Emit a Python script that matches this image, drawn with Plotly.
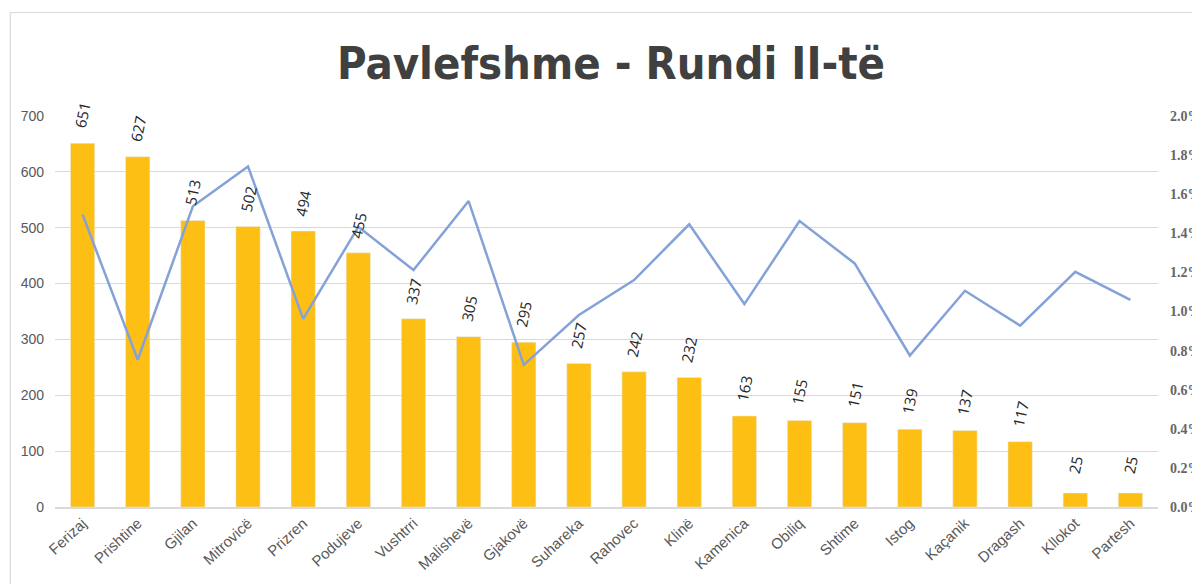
import plotly.graph_objects as go

categories = ["Ferizaj", "Prishtine", "Gjilan", "Mitrovicë", "Prizren", "Podujeve",
              "Vushtrri", "Malishevë", "Gjakovë", "Suhareka", "Rahovec", "Klinë",
              "Kamenica", "Obiliq", "Shtime", "Istog", "Kaçanik", "Dragash",
              "Kllokot", "Partesh"]
invalid_votes = [651, 627, 513, 502, 494, 455, 337, 305, 295, 257, 242, 232,
                 163, 155, 151, 139, 137, 117, 25, 25]
invalid_share = [0.01496, 0.00753, 0.01538, 0.01742, 0.00962, 0.01433, 0.01212, 0.01565,
                 0.00727, 0.00982, 0.01161, 0.01446, 0.01038, 0.01463, 0.01246, 0.00775,
                 0.01106, 0.00928, 0.01203, 0.01059]
left_ticks = [0, 100, 200, 300, 400, 500, 600, 700]
right_ticks = [0.0, 0.002, 0.004, 0.006, 0.008, 0.010, 0.012, 0.014, 0.016, 0.018, 0.020]

W, H = 1200, 584
OFF = 8  # page body offset
L, R, T, B = 54.7 - OFF, 42.4 + OFF, 115.7 - OFF, 76.5 + OFF

fig = go.Figure()
fig.add_trace(go.Bar(
    x=categories, y=invalid_votes, marker_color="#FDBF14",
    name="Pavlefshme",
))
fig.add_trace(go.Scatter(
    x=categories, y=invalid_share, yaxis="y2", mode="lines",
    line=dict(color="#84A2D8", width=2.5), name="%",
))

def px_to_paper_x(px):
    return (px - OFF - L) / (W - L - R)

def px_to_paper_y(py):
    return (H - B - (py - OFF)) / (H - T - B)

label_cap = 677  # labels of the tallest bars stop at the top of the chart
annotations = [
    dict(x=c, y=min(v, label_cap), xref="x", yref="y", text=str(v), showarrow=False,
         textangle=-78, yshift=28, xanchor="center", yanchor="middle",
         font=dict(family="Open Sans", size=15, color="#262626"))
    for c, v in zip(categories, invalid_votes)
]

fig.update_layout(
    width=W, height=H,
    margin=dict(l=L, r=R, t=T, b=B),
    plot_bgcolor="white", paper_bgcolor="white",
    showlegend=False, bargap=0.56,
    title=dict(text="<b>Pavlefshme - Rundi II-të</b>", x=(611 - OFF) / W, xanchor="center",
               y=1 - (63 - OFF) / H, yanchor="middle",
               font=dict(family="Liberation Sans Narrow, DejaVu Sans Condensed", size=45, color="#404040")),
    xaxis=dict(tickangle=-43, showgrid=False, showline=True, linecolor="#D9D9D9",
               linewidth=1.5, ticks="", automargin=False,
               tickfont=dict(family="Liberation Sans", size=15, color="#595959")),
    yaxis=dict(range=[0, 700], tickvals=left_ticks, showgrid=True, gridcolor="#D9D9D9",
               gridwidth=1.2, zeroline=False, ticks="", ticklabelstandoff=10,
               automargin=False,
               tickfont=dict(family="Liberation Sans", size=14, color="#595959")),
    yaxis2=dict(overlaying="y", side="right", range=[0, 0.020],
                tickvals=right_ticks, tickformat=".1%", showgrid=False, zeroline=False,
                ticks="", ticklabelstandoff=11, automargin=False,
                tickfont=dict(family="Liberation Serif", size=14, color="#666666", weight="bold")),
    shapes=[dict(type="rect", xref="paper", yref="paper",
                 x0=px_to_paper_x(10), x1=px_to_paper_x(1230),
                 y0=px_to_paper_y(620), y1=px_to_paper_y(12),
                 line=dict(color="#D9D9D9", width=1.2), layer="below")],
    annotations=annotations,
)

fig.write_html("out.html")
